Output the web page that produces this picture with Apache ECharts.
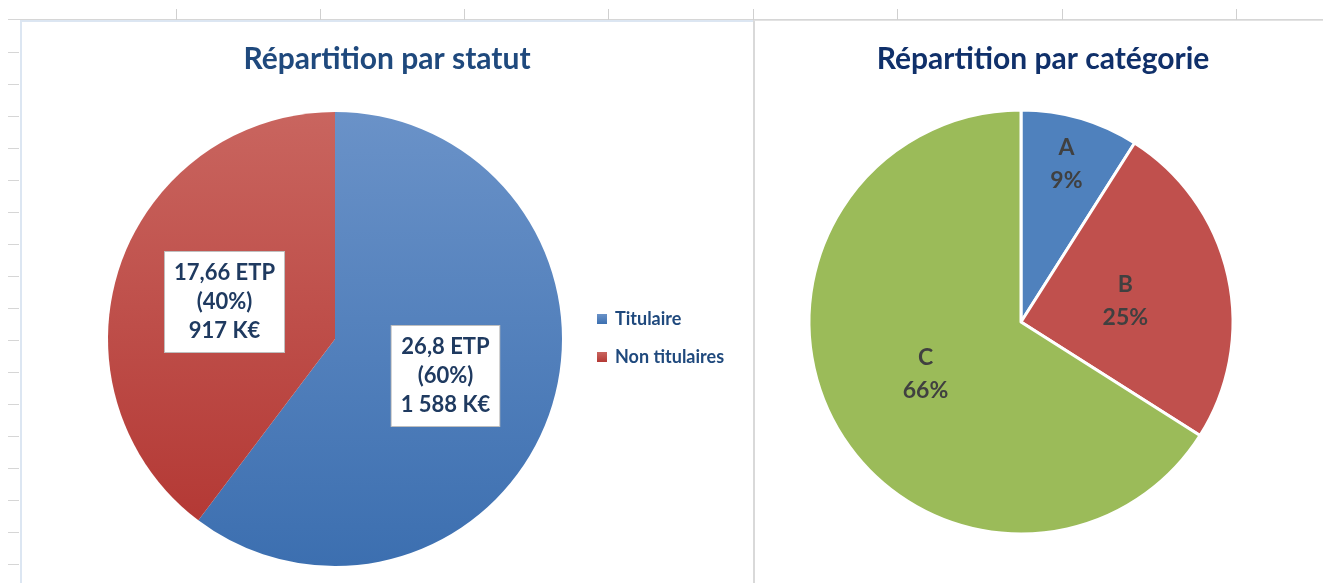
<!DOCTYPE html>
<html>
<head>
<meta charset="utf-8">
<script src="https://cdn.jsdelivr.net/npm/echarts@6/dist/echarts.min.js"></script>
<style>
  html, body { margin: 0; padding: 0; background: #fff; }
  #sheet { position: absolute; left: 0; top: 0; width: 1323px; height: 583px; overflow: hidden; }
  #sheet div { position: absolute; }
  .hline { top: 19px; left: 8px; right: 0; height: 1px; background: #d6d6d6; }
  .coltick { top: 9px; width: 1px; height: 11px; background: #d0d0d0; }
  .rowtick { left: 8px; width: 11px; height: 1px; background: #d6d6d6; }
  .frame1 { left: 20px; top: 20px; width: 733px; height: 600px; border-left: 2px solid #dce6f2; border-top: 2px solid #dce6f2; }
  .frame2 { left: 753px; top: 20px; width: 600px; height: 600px; border-left: 2px solid #d9d9d9; border-top: 1px solid #e2e2e2; }
  #chart { position: absolute; left: 0; top: 0; width: 1323px; height: 583px; }
</style>
</head>
<body>
<div id="sheet">
  <div class="hline"></div>
  <div class="frame1"></div>
  <div class="frame2"></div>
</div>
<div id="chart"></div>
<script>
// Répartition par statut
const statutNames = ["Titulaire", "Non titulaires"];
const statutEtp = [26.8, 17.66];
const statutKeur = [1588, 917];
const statutTop = ["#6a92c8", "#c9655f"];
const statutBottom = ["#3c6fb0", "#b43935"];

// Répartition par catégorie
const categorieNames = ["A", "B", "C"];
const categoriePct = [9, 25, 66];
const categorieColors = ["#4f81bd", "#c0504d", "#9bbb59"];

// décor de la feuille Excel
const colTicks = [176, 320, 464, 608, 753, 897, 1062, 1236];
const sheet = document.getElementById("sheet");
colTicks.forEach((x) => {
  const d = document.createElement("div");
  d.className = "coltick";
  d.style.left = x + "px";
  sheet.appendChild(d);
});
for (let y = 52; y < 583; y += 32) {
  const d = document.createElement("div");
  d.className = "rowtick";
  d.style.top = y + "px";
  sheet.appendChild(d);
}

const FONT = "Lato, 'Open Sans', sans-serif";

function frNum(v) {
  return String(v).replace(".", ",");
}
function frThousands(v) {
  return String(v).replace(/\B(?=(\d{3})+(?!\d))/g, " ");
}

const statutData = statutNames.map((name, i) => ({
  name: name,
  value: statutEtp[i],
  keur: statutKeur[i],
  itemStyle: {
    color: new echarts.graphic.LinearGradient(0, 0, 0, 1, [
      { offset: 0, color: statutTop[i] },
      { offset: 1, color: statutBottom[i] },
    ]),
  },
}));

const categorieData = categorieNames.map((name, i) => ({
  name: name,
  value: categoriePct[i],
  itemStyle: { color: categorieColors[i] },
}));

// décalage des étiquettes comme dans Excel (A poussée vers le bord)
const labelShift = [
  { dx: 15, dy: -53 },
  { dx: -2, dy: 3 },
  {},
];

const option = {
  animation: false,
  title: [
    {
      text: "Répartition par statut",
      left: 387,
      top: 44,
      padding: 0,
      textAlign: "center",
      textStyle: { fontFamily: FONT, fontSize: 30, fontWeight: "bold", color: "#1f497d" },
    },
    {
      text: "Répartition par catégorie",
      left: 1043,
      top: 44,
      padding: 0,
      textAlign: "center",
      textStyle: { fontFamily: FONT, fontSize: 30, fontWeight: "bold", color: "#10306a" },
    },
  ],
  legend: {
    data: statutNames,
    orient: "vertical",
    left: 597,
    top: 310,
    itemWidth: 10,
    itemHeight: 10,
    itemGap: 20,
    icon: "rect",
    padding: 0,
    textStyle: { fontFamily: FONT, fontSize: 18, fontWeight: "bold", color: "#1f497d", padding: [0, 0, 0, 3] },
  },
  series: [
    {
      type: "pie",
      center: [335, 339],
      radius: 227,
      startAngle: 90,
      clockwise: true,
      percentPrecision: 0,
      emphasis: { disabled: true },
      itemStyle: { borderWidth: 0 },
      label: {
        position: "inside",
        fontFamily: FONT,
        fontSize: 22,
        fontWeight: "bold",
        lineHeight: 29,
        color: "#1f3a60",
        backgroundColor: "#fff",
        borderColor: "#bfbfbf",
        borderWidth: 1,
        padding: [7, 9, 6, 9],
        formatter: (p) =>
          frNum(p.value) + " ETP\n(" + p.percent + "%)\n" + frThousands(p.data.keur) + " K€",
      },
      labelLine: { show: false },
      data: statutData,
    },
    {
      type: "pie",
      center: [1021, 322],
      radius: 212,
      startAngle: 90,
      clockwise: true,
      percentPrecision: 0,
      emphasis: { disabled: true },
      itemStyle: { borderColor: "#fff", borderWidth: 3 },
      label: {
        position: "inside",
        fontFamily: FONT,
        fontSize: 23,
        fontWeight: "bold",
        lineHeight: 33,
        color: "#404040",
        formatter: "{b}\n{d}%",
      },
      labelLayout: (p) => labelShift[p.dataIndex] || {},
      labelLine: { show: false },
      data: categorieData,
    },
  ],
};

const chart = echarts.init(document.getElementById("chart"), null, { renderer: "canvas" });
chart.setOption(option);
</script>
</body>
</html>
